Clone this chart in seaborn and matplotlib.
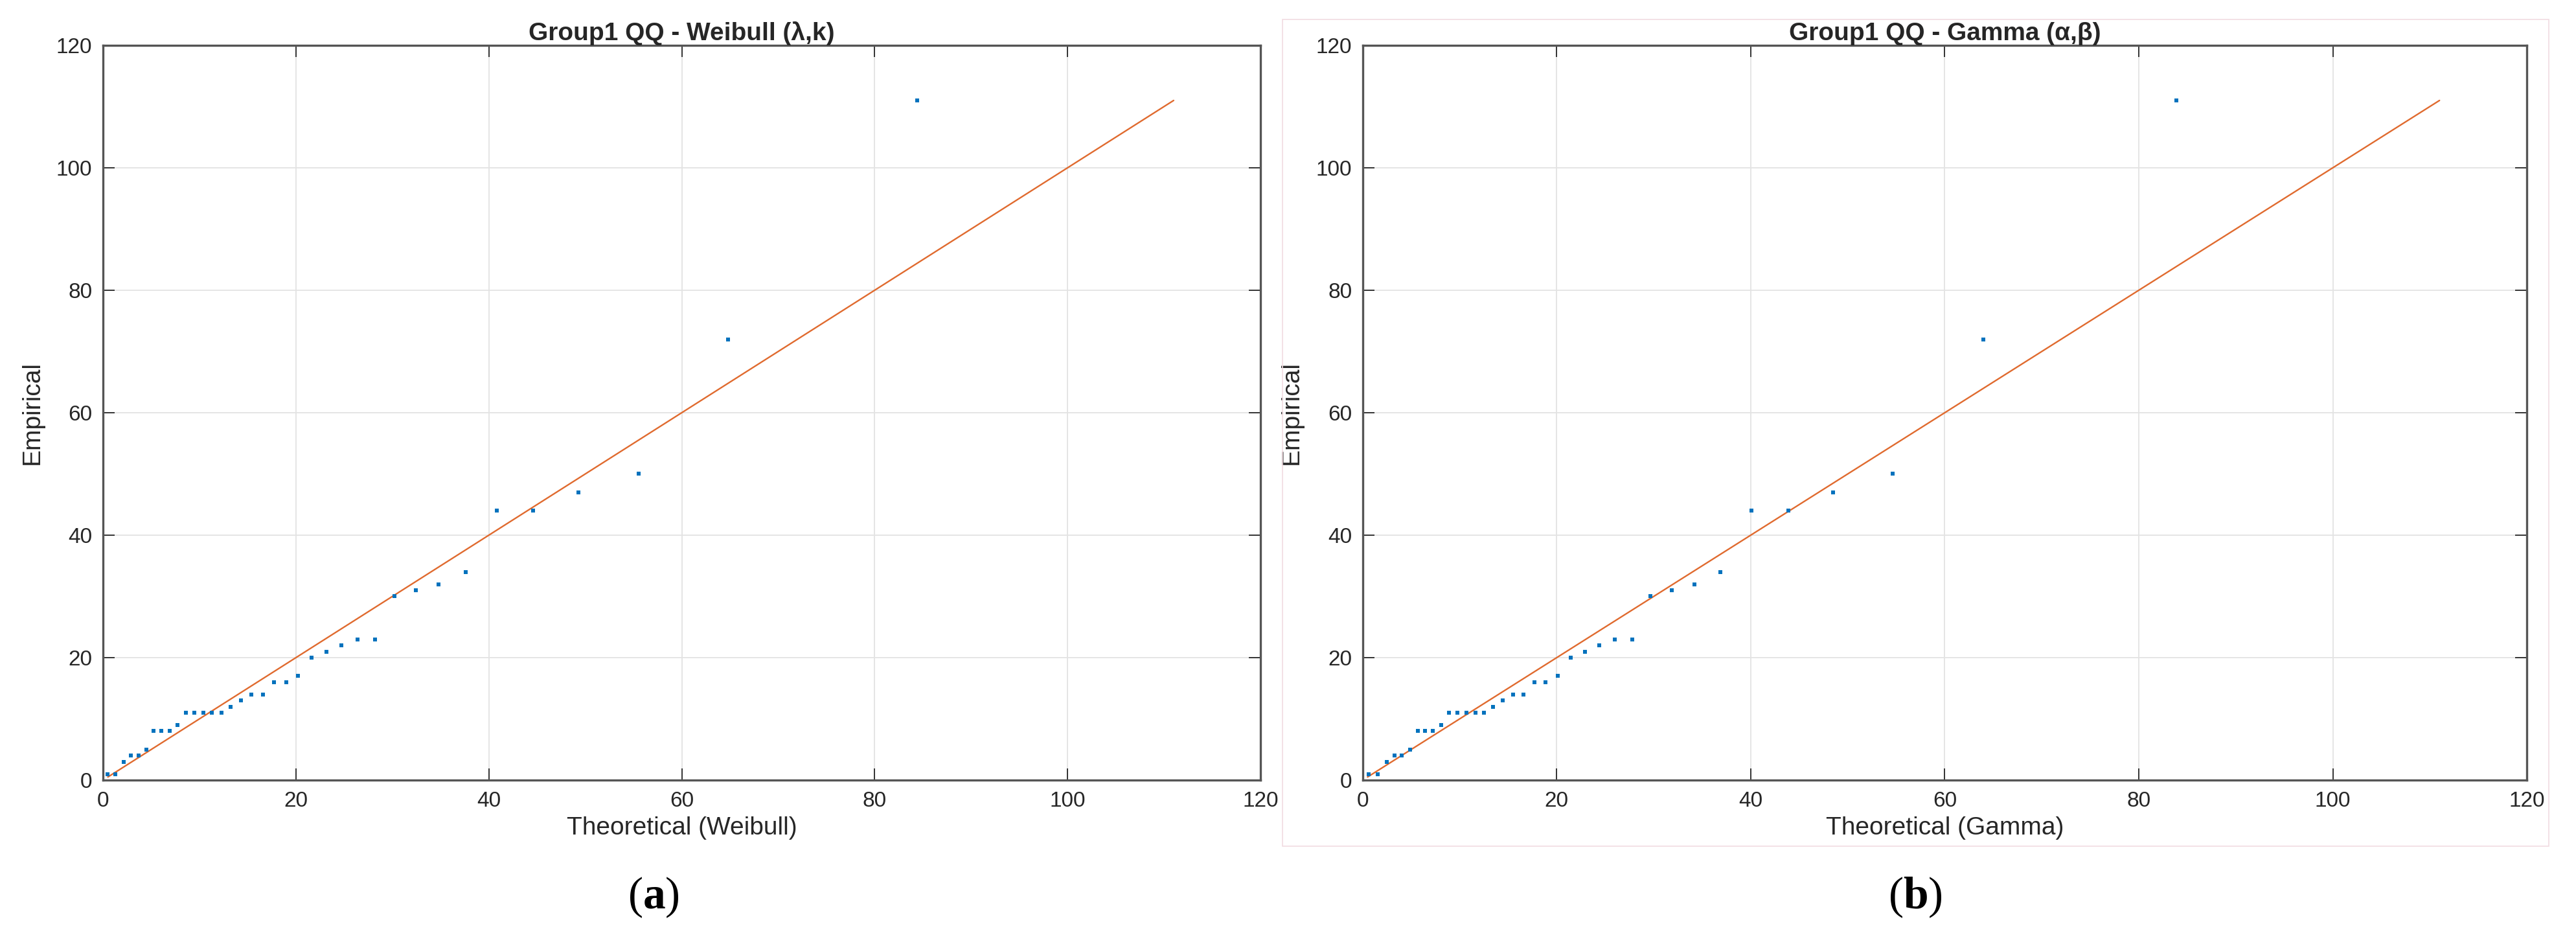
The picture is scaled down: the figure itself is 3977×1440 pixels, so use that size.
import pandas as pd
import seaborn as sns
import matplotlib.pyplot as plt
from matplotlib.patches import Rectangle

# empirical quantiles (same sample for both fits)
empirical = [1, 1, 3, 4, 4, 5, 8, 8, 8, 9, 11, 11, 11, 11, 11, 12, 13, 14, 14, 16,
             16, 17, 20, 21, 22, 23, 23, 30, 31, 32, 34, 44, 44, 47, 50, 72, 111]

# theoretical quantiles
weibull_theo = [0.45, 1.29, 2.13, 2.88, 3.69, 4.5, 5.25, 6.06, 6.93, 7.74, 8.6, 9.48,
                10.4, 11.3, 12.3, 13.25, 14.27, 15.4, 16.55, 17.7, 19.0, 20.24, 21.6,
                23.15, 24.7, 26.4, 28.2, 30.2, 32.4, 34.8, 37.6, 40.8, 44.6, 49.3,
                55.5, 64.8, 84.4]
gamma_theo = [0.6, 1.58, 2.47, 3.28, 4.05, 4.89, 5.69, 6.44, 7.24, 8.08, 8.91, 9.78,
              10.67, 11.6, 12.49, 13.41, 14.43, 15.5, 16.54, 17.68, 18.87, 20.09, 21.43,
              22.89, 24.38, 25.99, 27.78, 29.66, 31.83, 34.19, 36.9, 40.1, 43.9, 48.5,
              54.6, 63.95, 83.9]

# 45 degree reference line ends
ref_line = [0.5, 111]

ticks = [0, 20, 40, 60, 80, 100, 120]

panels = [
    ("Group1 QQ - Weibull (λ,k)", "Theoretical (Weibull)", weibull_theo, "a"),
    ("Group1 QQ - Gamma (α,β)", "Theoretical (Gamma)", gamma_theo, "b"),
]

sns.set_style('whitegrid')
plt.rcParams['font.family'] = ['Liberation Sans', 'DejaVu Sans']
plt.rcParams['mathtext.fontset'] = 'custom'
plt.rcParams['mathtext.rm'] = 'Liberation Serif'
plt.rcParams['mathtext.bf'] = 'Liberation Serif:bold'

fig = plt.figure(figsize=(39.77, 14.40), dpi=100)

# faint frame around subfigure (b)
fig.patches.append(Rectangle((0.4979, 0.0931), 0.4916, 0.886, transform=fig.transFigure,
                             fill=False, edgecolor='#f1dce2', linewidth=1.2))

boxes = [[0.0400, 0.1639, 0.4493, 0.7875], [0.5290, 0.1639, 0.4519, 0.7875]]
label_x = [1009 / 3977, 2957 / 3977]

axis_col = '#262626'
for (title, xlab, theo, tag), box, lx in zip(panels, boxes, label_x):
    ax = fig.add_axes(box)
    df = pd.DataFrame({'theoretical': theo, 'empirical': empirical})
    sns.lineplot(x=ref_line, y=ref_line, color='#E06A2E', linewidth=1.7, ax=ax, zorder=2)
    sns.scatterplot(data=df, x='theoretical', y='empirical', marker='s', s=21,
                    color='#0072BD', linewidth=0, ax=ax, zorder=3)
    ax.set_xlim(0, 120)
    ax.set_ylim(0, 120)
    ax.set_xticks(ticks)
    ax.set_yticks(ticks)
    ax.grid(True, color='#e3e3e3', linewidth=1.3)
    for sp in ax.spines.values():
        sp.set_color('#555555')
        sp.set_linewidth(2.4)
    ax.tick_params(direction='in', length=13, width=1.3, color=axis_col,
                   labelsize=24, labelcolor=axis_col, pad=12,
                   top=True, right=True, bottom=True, left=True)
    ax.set_xlabel(xlab, fontsize=28, color=axis_col, labelpad=6)
    ax.set_ylabel('Empirical', fontsize=28, color=axis_col, labelpad=14)
    ax.set_title(title, fontsize=28, fontweight='bold', color=axis_col, pad=6)
    fig.text(lx, 1 - 1385 / 1440, '($\\mathbf{' + tag + '}$)', ha='center', va='center',
             fontsize=50, family='Liberation Serif', color='black')

plt.savefig('out.png', dpi=100)
